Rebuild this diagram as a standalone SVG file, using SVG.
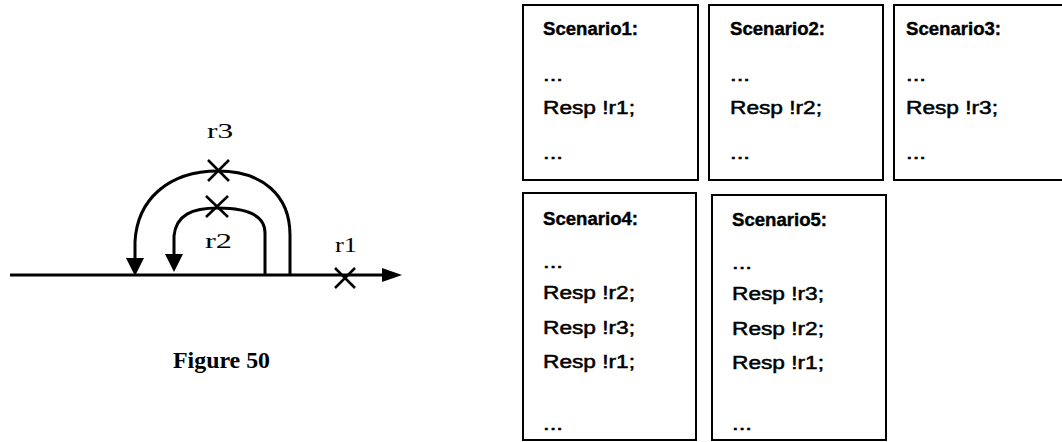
<svg xmlns="http://www.w3.org/2000/svg" width="1062" height="442" viewBox="0 0 1062 442">
<style>
.box{fill:#fff;stroke:#000;stroke-width:2}
.ttl{font-family:"Liberation Sans",Arial,sans-serif;font-weight:bold;font-size:18px;fill:#000;stroke:#000;stroke-width:0.4}
.ln{font-family:"Liberation Sans",Arial,sans-serif;font-size:18px;fill:#000;stroke:#000;stroke-width:0.5}
.lbl{font-family:"Liberation Serif","Times New Roman",serif;font-size:22px;fill:#000}
.cap{font-family:"Liberation Serif","Times New Roman",serif;font-weight:bold;font-size:23px;fill:#000}
.wire{fill:none;stroke:#000;stroke-width:3}
.cross{stroke:#000;stroke-width:2.5}
.head{fill:#000}
</style>
<rect width="1062" height="442" fill="#fff"/>
<g id="connectors">
<line class="wire" x1="10" y1="275" x2="385" y2="275"/>
<polygon class="head" points="382,268 402,275 382,282"/>
<path class="wire" d="M290,275 L290,235 C290,195 262,171 218,171 C168,171 137,200 135,242 L135,260"/>
<polygon class="head" points="126,258 144,258 135,276"/>
<path class="wire" d="M265,275 L265,233 C265,216 248,208 218,208 C192,208 176,215 174,236 L174,256"/>
<polygon class="head" points="165,254 183,254 174,272"/>
</g>
<g id="marks">
<path class="cross" d="M208,160 L229,181 M229,160 L208,181"/>
<path class="cross" d="M206,196 L228,217 M228,196 L206,217"/>
<path class="cross" d="M335,268 L355,288 M355,268 L335,288"/>
</g>
<g id="labels">
<text class="lbl" x="207" y="138" textLength="26" lengthAdjust="spacingAndGlyphs">r3</text>
<text class="lbl" x="205" y="248" textLength="27" lengthAdjust="spacingAndGlyphs">r2</text>
<text class="lbl" x="335" y="252" textLength="22" lengthAdjust="spacingAndGlyphs">r1</text>
<text class="cap" x="173" y="368" textLength="97" lengthAdjust="spacingAndGlyphs">Figure 50</text>
</g>
<g id="scenario1">
<rect class="box" x="523" y="5" width="175" height="175"/>
<text class="ttl" x="543" y="35" textLength="95" lengthAdjust="spacingAndGlyphs">Scenario1:</text>
<text class="ln" x="543" y="81" textLength="20" lengthAdjust="spacingAndGlyphs">...</text>
<text class="ln" x="543" y="114" textLength="92" lengthAdjust="spacingAndGlyphs">Resp !r1;</text>
<text class="ln" x="543" y="159" textLength="20" lengthAdjust="spacingAndGlyphs">...</text>
</g>
<g id="scenario2">
<rect class="box" x="709" y="5" width="174" height="175"/>
<text class="ttl" x="730" y="35" textLength="95" lengthAdjust="spacingAndGlyphs">Scenario2:</text>
<text class="ln" x="730" y="81" textLength="20" lengthAdjust="spacingAndGlyphs">...</text>
<text class="ln" x="730" y="114" textLength="92" lengthAdjust="spacingAndGlyphs">Resp !r2;</text>
<text class="ln" x="730" y="159" textLength="20" lengthAdjust="spacingAndGlyphs">...</text>
</g>
<g id="scenario3">
<rect class="box" x="894" y="5" width="180" height="175"/>
<text class="ttl" x="906" y="35" textLength="95" lengthAdjust="spacingAndGlyphs">Scenario3:</text>
<text class="ln" x="906" y="81" textLength="20" lengthAdjust="spacingAndGlyphs">...</text>
<text class="ln" x="906" y="114" textLength="92" lengthAdjust="spacingAndGlyphs">Resp !r3;</text>
<text class="ln" x="906" y="159" textLength="20" lengthAdjust="spacingAndGlyphs">...</text>
</g>
<g id="scenario4">
<rect class="box" x="523" y="193" width="173" height="247"/>
<text class="ttl" x="543" y="225" textLength="95" lengthAdjust="spacingAndGlyphs">Scenario4:</text>
<text class="ln" x="543" y="268" textLength="20" lengthAdjust="spacingAndGlyphs">...</text>
<text class="ln" x="543" y="299" textLength="92" lengthAdjust="spacingAndGlyphs">Resp !r2;</text>
<text class="ln" x="543" y="334" textLength="92" lengthAdjust="spacingAndGlyphs">Resp !r3;</text>
<text class="ln" x="543" y="368" textLength="92" lengthAdjust="spacingAndGlyphs">Resp !r1;</text>
<text class="ln" x="543" y="430" textLength="20" lengthAdjust="spacingAndGlyphs">...</text>
</g>
<g id="scenario5">
<rect class="box" x="712" y="195" width="174" height="245"/>
<text class="ttl" x="732" y="226" textLength="95" lengthAdjust="spacingAndGlyphs">Scenario5:</text>
<text class="ln" x="732" y="269" textLength="20" lengthAdjust="spacingAndGlyphs">...</text>
<text class="ln" x="732" y="300" textLength="92" lengthAdjust="spacingAndGlyphs">Resp !r3;</text>
<text class="ln" x="732" y="335" textLength="92" lengthAdjust="spacingAndGlyphs">Resp !r2;</text>
<text class="ln" x="732" y="369" textLength="92" lengthAdjust="spacingAndGlyphs">Resp !r1;</text>
<text class="ln" x="732" y="430" textLength="20" lengthAdjust="spacingAndGlyphs">...</text>
</g>
</svg>
